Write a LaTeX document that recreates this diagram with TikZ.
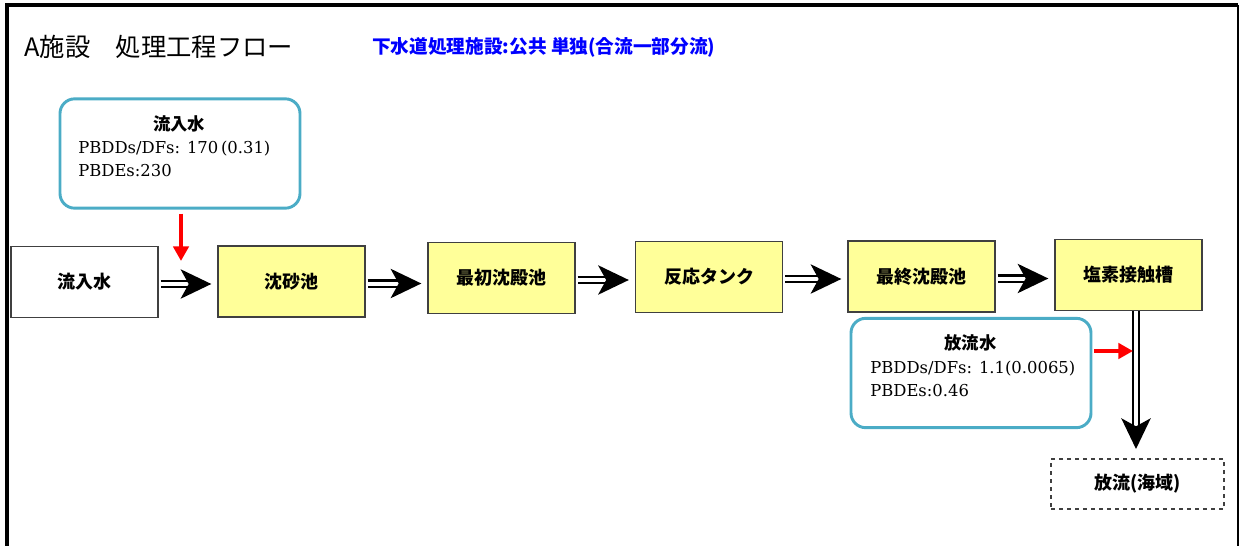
\documentclass[tikz,border=0pt]{standalone}
\usepackage{fontspec}
\usepackage{tikz}
\usetikzlibrary{arrows.meta}
\usetikzlibrary{calc}
\setmainfont{DejaVu Serif}
\newfontfamily\jpfont{Noto Sans CJK JP}
\definecolor{boxyellow}{HTML}{FFFF99}
\definecolor{calloutblue}{HTML}{4BACC6}
\definecolor{boxgray}{HTML}{404040}

\begin{document}
\begin{tikzpicture}[x=0.75pt, y=-0.75pt,
        box_style/.style={draw=boxgray, line width=1pt, fill=boxyellow, minimum width=110.25pt, minimum height=53.25pt, inner sep=0pt, font=\jpfont\bfseries\fontsize{13.5}{15}\selectfont},
        start_box_style/.style={box_style, fill=white},
        end_box_style/.style={box_style, fill=white, dashed, minimum width=129.75pt, minimum height=37.5pt},
        callout_style/.style={draw=calloutblue, line width=2.2pt, rounded corners=11pt, minimum width=180pt, minimum height=82pt},
        callout_title_style/.style={font=\jpfont\bfseries\fontsize{13}{15}\selectfont, inner sep=0pt},
        callout_text_style/.style={font=\fontsize{12.3}{17.25}\selectfont, align=left, anchor=west, inner sep=0pt},
        flow_edge_style/.style={draw=black, double, double distance=3pt, line width=1.7pt, -{Stealth[length=23pt, width=22pt, inset=6pt]}},
        red_edge_style/.style={draw=red, line width=3pt, -{Triangle[length=11pt, width=11.5pt]}}]

        \useasboundingbox (0,0) rectangle (1240,546);
        % frame
        \draw [line width=3pt] (7,546) -- (7,5) -- (1238,5);
        \draw [line width=1.5pt] (1238,5) -- (1238,546);

        % titles
        \node [anchor=west, inner sep=0pt, font=\jpfont\fontsize{19}{21}\selectfont] (title) at (24,47) {A施設　処理工程フロー};
        \node [anchor=west, inner sep=0pt, text=blue, font=\jpfont\bfseries\fontsize{14}{16}\selectfont] (subtitle) at (372,47) {下水道処理施設:公共 単独(合流一部分流)};

        % process boxes
        \node [start_box_style](n1) at (84.5,282) {流入水};
        \node [box_style](n2) at (291.5,281.5) {沈砂池};
        \node [box_style](n3) at (501.5,278) {最初沈殿池};
        \node [box_style](n4) at (709,277) {反応タンク};
        \node [box_style](n5) at (921.5,276.5) {最終沈殿池};
        \node [box_style](n6) at (1128.5,275) {塩素接触槽};
        \node [end_box_style](n7) at (1137.5,484) {放流(海域)};

        % callouts
        \node [callout_style](c1) at (180,153.5) {};
        \node [callout_title_style](c1t) at (179,124) {流入水};
        \node [callout_text_style](c1d) at (78,158.5) {PBDDs/DFs: 170\,(0.31)\\PBDEs:230};
        \node [callout_style](c2) at (971,373) {};
        \node [callout_title_style](c2t) at (970.5,343) {放流水};
        \node [callout_text_style](c2d) at (870,378.5) {PBDDs/DFs: 1.1(0.0065)\\PBDEs:0.46};

        \coordinate (in_tip) at (181,261);
        \coordinate (out_tip) at (1136,449);
        \coordinate (red_tip) at (1133,351);

        % flow
        \draw [flow_edge_style, shorten <=1.5pt, shorten >=4.5pt] ($(n1.east)+(0,2)$) -- ($(n1.east -| n2.west)+(0,2)$);
        \draw [flow_edge_style, shorten <=1.5pt, shorten >=4.5pt] ($(n2.east)+(0,2)$) -- ($(n2.east -| n3.west)+(0,2)$);
        \draw [flow_edge_style, shorten <=1.5pt, shorten >=4.5pt] ($(n3.east)+(0,2)$) -- ($(n3.east -| n4.west)+(0,2)$);
        \draw [flow_edge_style, shorten <=1.5pt, shorten >=4.5pt] ($(n4.east)+(0,2)$) -- ($(n4.east -| n5.west)+(0,2)$);
        \draw [flow_edge_style, shorten <=1.5pt, shorten >=4.5pt] ($(n5.east)+(0,2)$) -- ($(n5.east -| n6.west)+(0,2)$);
        \draw [flow_edge_style] (n6.south -| out_tip) -- (out_tip);

        % measurement points
        \draw [red_edge_style, shorten <=3pt] (c1.south -| in_tip) -- (in_tip);
        \draw [red_edge_style, shorten <=1.5pt] (c2.east |- red_tip) -- (red_tip);
        \end{tikzpicture}
\end{document}
